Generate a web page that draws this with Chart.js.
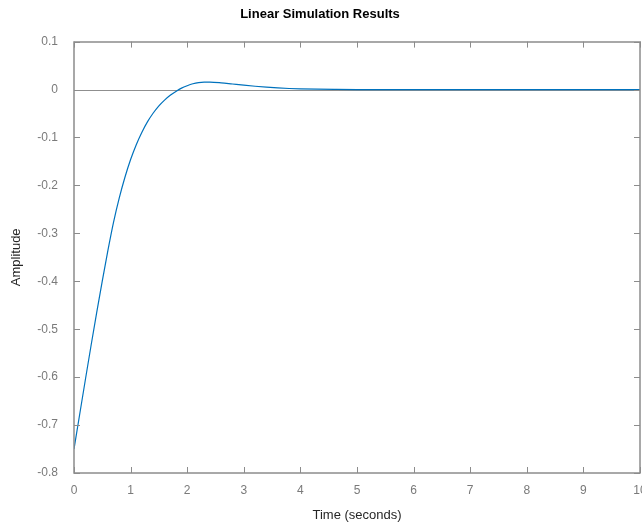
<!DOCTYPE html>
<html>
<head>
<meta charset="utf-8">
<script src="https://cdn.jsdelivr.net/npm/chart.js@4.4.1/dist/chart.umd.min.js"></script>
<style>
  html, body { margin: 0; padding: 0; background: #fff; }
  #wrap { width: 642px; height: 527px; }
</style>
</head>
<body>
<div id="wrap"><canvas id="sim-chart"></canvas></div>
<script>
// response (time in s, amplitude)
const timeValues = [0, 0.1, 0.2, 0.3, 0.4, 0.5, 0.6, 0.7, 0.8, 0.9, 1.0, 1.1, 1.2, 1.3, 1.4,
  1.5, 1.6, 1.7, 1.8, 1.9, 2.0, 2.1, 2.2, 2.3, 2.4, 2.6, 2.8, 3.0, 3.2, 3.4, 3.6, 3.8, 4.0,
  4.3, 4.6, 5, 6, 7, 8, 9, 10];
const amplitudeValues = [-0.75, -0.678, -0.606, -0.535, -0.466, -0.399, -0.335, -0.276, -0.226,
  -0.183, -0.146, -0.115, -0.089, -0.067, -0.049, -0.034, -0.022, -0.012, -0.004, 0.003, 0.008,
  0.012, 0.0145, 0.0155, 0.0155, 0.014, 0.0115, 0.009, 0.0068, 0.0049, 0.0034, 0.0022, 0.0014,
  0.0007, 0.0003, 0.0, 0.0, 0.0, 0.0, 0.0, 0.0];

const xTicks = [0, 1, 2, 3, 4, 5, 6, 7, 8, 9, 10];
const yTicks = [0.1, 0, -0.1, -0.2, -0.3, -0.4, -0.5, -0.6, -0.7, -0.8];
const yTickLabels = ["0.1", "0", "-0.1", "-0.2", "-0.3", "-0.4", "-0.5", "-0.6", "-0.7", "-0.8"];

const axisGray = "#8c8c8c";
const labelGray = "#7a7a7a";
const font = "'Liberation Sans', Arial, Helvetica, sans-serif";

let points = timeValues.map((t, i) => ({ x: t, y: amplitudeValues[i] }));

// zero line under the curve, box + inward ticks on top
const axesBox = {
  id: "axesBox",
  beforeDatasetsDraw(chart) {
    let ctx = chart.ctx, a = chart.chartArea, ys = chart.scales.y;
    let y0 = Math.round(ys.getPixelForValue(0)) + 0.5;
    ctx.save();
    ctx.strokeStyle = "#8f8f8f";
    ctx.lineWidth = 1;
    ctx.beginPath();
    ctx.moveTo(a.left, y0);
    ctx.lineTo(a.right, y0);
    ctx.stroke();
    ctx.restore();
  },
  afterDraw(chart) {
    let ctx = chart.ctx, a = chart.chartArea;
    let xs = chart.scales.x, ys = chart.scales.y;
    let len = 6;
    ctx.save();
    ctx.strokeStyle = axisGray;
    ctx.lineWidth = 1;
    ctx.beginPath();
    for (let v of xTicks) {
      let px = Math.round(xs.getPixelForValue(v)) + 0.5;
      ctx.moveTo(px, a.bottom);
      ctx.lineTo(px, a.bottom - len);
      ctx.moveTo(px, a.top);
      ctx.lineTo(px, a.top + len);
    }
    for (let v of yTicks) {
      let py = Math.round(ys.getPixelForValue(v)) + 0.5;
      ctx.moveTo(a.left, py);
      ctx.lineTo(a.left + len, py);
      ctx.moveTo(a.right, py);
      ctx.lineTo(a.right - len, py);
    }
    ctx.stroke();
    ctx.lineWidth = 1.5;
    ctx.strokeRect(Math.round(a.left), Math.round(a.top), Math.round(a.right - a.left), Math.round(a.bottom - a.top));
    ctx.restore();
  },
};

let simChart = new Chart(document.getElementById("sim-chart"), {
  type: "line",
  data: {
    datasets: [
      {
        label: "response",
        data: points,
        borderColor: "#0072BD",
        borderWidth: 1.2,
        pointRadius: 0,
        fill: false,
        cubicInterpolationMode: "monotone",
      },
    ],
  },
  options: {
    responsive: true,
    maintainAspectRatio: false,
    animation: false,
    layout: {
      padding: { left: 0, right: 2, top: 0, bottom: 0 },
    },
    plugins: {
      legend: { display: false },
      tooltip: { enabled: false },
      title: {
        display: true,
        text: "Linear Simulation Results",
        color: "#000",
        font: { family: font, size: 13, weight: "bold" },
        padding: { top: 7, bottom: 19 },
      },
    },
    scales: {
      x: {
        type: "linear",
        min: 0,
        max: 10,
        afterBuildTicks: (s) => { s.ticks = xTicks.map((v) => ({ value: v })); },
        afterFit: (s) => { s.paddingRight = 0; s.paddingLeft = 0; s.height = 54; },
        border: { display: false },
        grid: { display: false, drawTicks: false },
        ticks: {
          color: labelGray,
          padding: 10,
          maxRotation: 0,
          font: { family: font, size: 12 },
          callback: (v) => String(v),
        },
        title: {
          display: true,
          text: "Time (seconds)",
          color: "#262626",
          font: { family: font, size: 13 },
          padding: { top: 0, bottom: 4 },
        },
      },
      y: {
        type: "linear",
        min: -0.8,
        max: 0.1,
        afterBuildTicks: (s) => { s.ticks = yTicks.map((v) => ({ value: v })); },
        afterFit: (s) => { s.width = 74; },
        border: { display: false },
        grid: { display: false, drawTicks: false },
        ticks: {
          color: labelGray,
          padding: 16,
          font: { family: font, size: 12 },
          callback: (v, i) => yTickLabels[i],
        },
        title: {
          display: true,
          text: "Amplitude",
          color: "#262626",
          font: { family: font, size: 13 },
          padding: { top: 9, bottom: 0 },
        },
      },
    },
  },
  plugins: [axesBox],
});
</script>
</body>
</html>
